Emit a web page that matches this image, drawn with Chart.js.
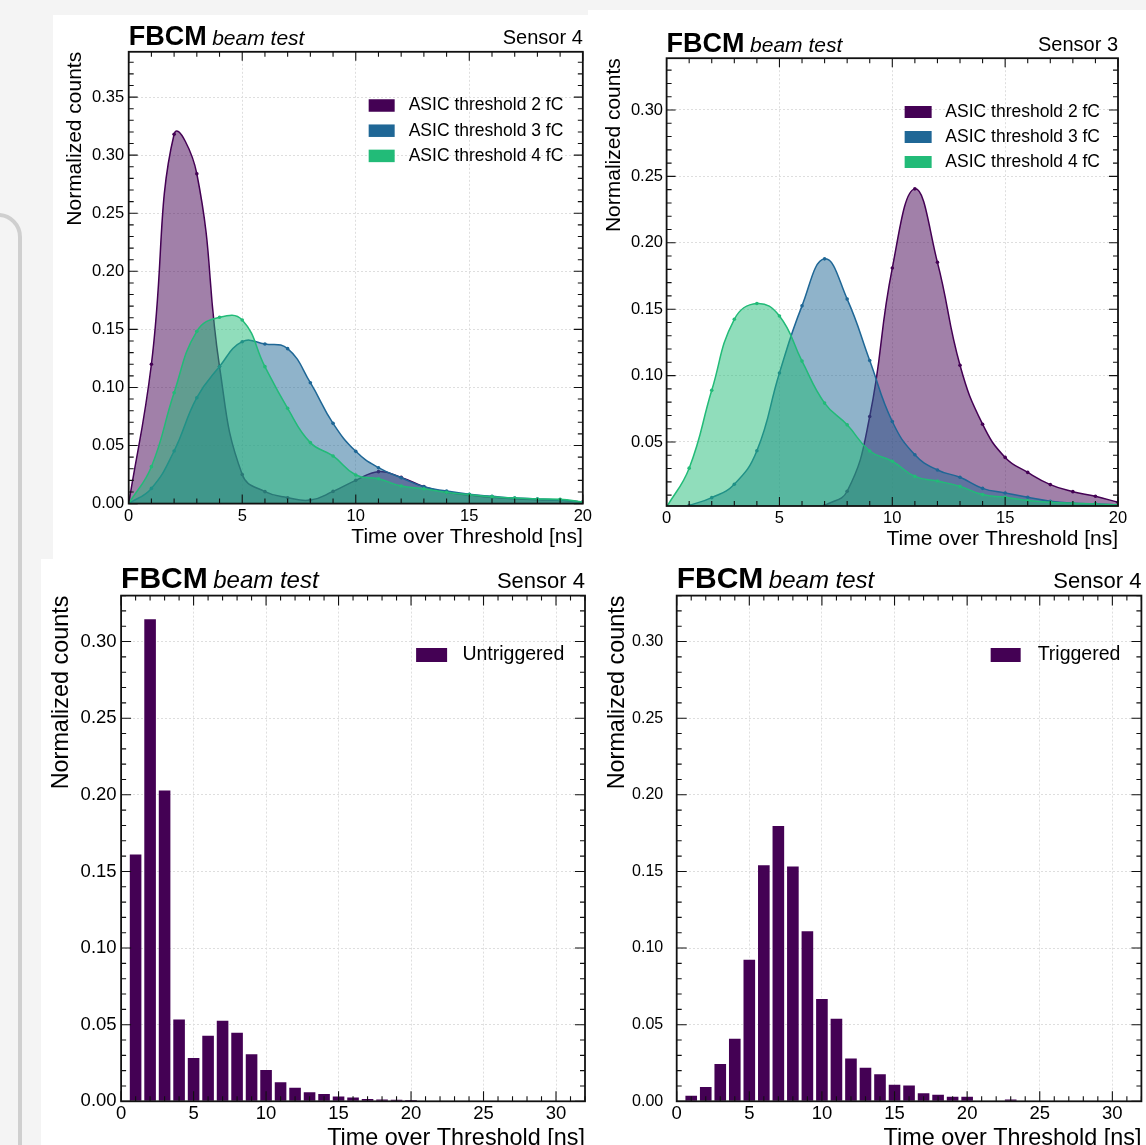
<!DOCTYPE html>
<html>
<head>
<meta charset="utf-8">
<script src="https://cdn.jsdelivr.net/npm/chart.js@4.4.0/dist/chart.umd.min.js"></script>
<style>
html,body{margin:0;padding:0;width:1146px;height:1145px;overflow:hidden;background:#f4f4f4;position:relative;}
.bg{position:absolute;background:#fff;}
.rr{position:absolute;left:-40px;top:213px;width:54px;height:1000px;border:4px solid #cfcfcf;border-radius:24px;}
canvas{position:absolute;}
</style>
</head>
<body>
<div class="rr"></div>
<div class="bg" style="left:53px;top:15px;width:537px;height:545px"></div>
<div class="bg" style="left:588px;top:10px;width:558px;height:550px"></div>
<div class="bg" style="left:41px;top:559px;width:1105px;height:586px"></div>
<canvas id="c1" width="555" height="557" style="left:40px;top:0px"></canvas>
<canvas id="c2" width="556" height="557" style="left:590px;top:0px"></canvas>
<canvas id="c3" width="590" height="600" style="left:0px;top:557px"></canvas>
<canvas id="c4" width="556" height="600" style="left:590px;top:557px"></canvas>
<script>
// ---------------- data ----------------
const TITLE_BOLD = 'FBCM';
const TITLE_ITALIC = 'beam test';
const X_TITLE = 'Time over Threshold [ns]';
const Y_TITLE = 'Normalized counts';
const LABELS_ASIC = ['ASIC threshold 2 fC', 'ASIC threshold 3 fC', 'ASIC threshold 4 fC'];

// Top-left: Sensor 4
const TL_X   = [0,1,2,3,4,5,6,7,8,9,10,11,12,13,14,15,16,17,18,19,20];
const TL_2FC = [0,0.120,0.318,0.284,0.118,0.025,0.0103,0.0051,0.0030,0.0105,0.020,0.0275,0.0226,0.0146,0.0097,0.0074,0.0054,0.0042,0.0034,0.0028,0.0014];
const TL_3FC = [0,0.0131,0.0453,0.0912,0.118,0.1394,0.1374,0.1334,0.1041,0.0691,0.0450,0.0309,0.0223,0.0145,0.0108,0.0080,0.0063,0.0048,0.0040,0.0030,0.0014];
const TL_4FC = [0,0.0318,0.0955,0.1483,0.1604,0.1581,0.1179,0.0820,0.0525,0.0410,0.0246,0.0214,0.0151,0.0128,0.0097,0.0077,0.0060,0.0048,0.0040,0.0037,0.0014];

// Top-right: Sensor 3
const TR_X   = [0,1,2,3,4,5,6,7,8,9,10,11,12,13,14,15,16,17,18,19,20];
const TR_2FC = [null,null,null,null,null,null,null,0.002,0.0129,0.0692,0.181,0.2406,0.1853,0.1078,0.0634,0.0384,0.0271,0.0179,0.0126,0.0091,0.0046];
const TR_3FC = [null,0.0023,0.0081,0.0182,0.0434,0.102,0.1525,0.1879,0.1576,0.1114,0.0654,0.0404,0.0289,0.0234,0.0151,0.0116,0.0084,0.0054,0.0039,0.0034,0.0026];
const TR_4FC = [0.001,0.0303,0.0889,0.1424,0.1543,0.1449,0.1109,0.0793,0.0629,0.0432,0.0355,0.0241,0.0206,0.0166,0.0104,0.0084,0.0059,0.0046,0.0039,0.0034,0.0026];

// Bottom: histograms, Sensor 4
const BINS   = [1,2,3,4,5,6,7,8,9,10,11,12,13,14,15,16,17,18,19,20,21,22,23];
const UNTRIG = [0.161,0.3145,0.2028,0.0533,0.0282,0.0427,0.0525,0.0447,0.0307,0.0204,0.0125,0.0088,0.0059,0.0047,0.0032,0.0025,0.0015,0.0012,0.0010,0.0008,0,0,0];
const TRIG   = [0.0037,0.0093,0.0243,0.0408,0.0923,0.154,0.1797,0.1532,0.111,0.0668,0.0538,0.028,0.0219,0.0177,0.0108,0.0103,0.0052,0.0042,0.0029,0.0029,0,0,0.0012];

// ---------------- style ----------------
const FONT = "'Liberation Sans', Arial, Helvetica, sans-serif";
const C_PURPLE = '#440154', C_BLUE = '#1f6796', C_GREEN = '#22bb78';
const FILL_ALPHA = 0.5;

function rgba(hex, a) {
  const n = parseInt(hex.slice(1), 16);
  return `rgba(${(n>>16)&255},${(n>>8)&255},${n&255},${a})`;
}
function pts(xs, ys) {
  return xs.map((x, i) => ({x: x, y: ys[i]})).filter(p => p.y !== null);
}

const hepPlugin = {
  id: 'hep',
  afterDraw(chart, _args, o) {
    const ctx = chart.ctx, a = chart.chartArea, xs = chart.scales.x, ys = chart.scales.y;
    ctx.save();
    ctx.strokeStyle = '#111';
    ctx.lineWidth = 1.1;
    ctx.beginPath();
    const mk = (scale, step, minor, fn) => {
      const n0 = Math.ceil(scale.min / minor - 1e-6), n1 = Math.floor(scale.max / minor + 1e-6);
      for (let k = n0; k <= n1; k++) {
        const v = k * minor;
        const r = v / step;
        const major = Math.abs(r - Math.round(r)) < 1e-6;
        fn(scale.getPixelForValue(v), major ? o.majorLen : o.minorLen);
      }
    };
    mk(xs, o.xStep, o.xMinor, (p, L) => {
      ctx.moveTo(p, a.bottom); ctx.lineTo(p, a.bottom - L);
      ctx.moveTo(p, a.top); ctx.lineTo(p, a.top + L);
    });
    mk(ys, o.yStep, o.yMinor, (p, L) => {
      ctx.moveTo(a.left, p); ctx.lineTo(a.left + L, p);
      ctx.moveTo(a.right, p); ctx.lineTo(a.right - L, p);
    });
    ctx.stroke();
    ctx.lineWidth = o.frameWidth;
    ctx.strokeRect(a.left, a.top, a.right - a.left, a.bottom - a.top);

    // header
    ctx.fillStyle = '#000';
    ctx.textBaseline = 'alphabetic';
    ctx.textAlign = 'left';
    ctx.font = `bold ${o.boldSize}px ${FONT}`;
    const by = a.top - o.titleGap;
    ctx.fillText(TITLE_BOLD, a.left, by);
    const w = ctx.measureText(TITLE_BOLD).width;
    ctx.font = `italic ${o.italicSize}px ${FONT}`;
    ctx.fillText(TITLE_ITALIC, a.left + w + o.titleSpace, by);
    ctx.font = `${o.sensorSize}px ${FONT}`;
    ctx.textAlign = 'right';
    ctx.fillText(o.sensor, a.right, a.top - o.sensorGap);

    // legend
    ctx.font = `${o.legendSize}px ${FONT}`;
    ctx.textAlign = 'left';
    ctx.textBaseline = 'middle';
    const ds = chart.data.datasets;
    const maxW = Math.max(...ds.map(d => ctx.measureText(d.label).width));
    const tx = a.right - o.legendRight - maxW;
    ds.forEach((d, i) => {
      const cy = a.top + o.legendTop + i * o.legendRow;
      ctx.fillStyle = d.legendColor;
      ctx.fillRect(tx - o.swatchGap, cy - o.swatchH / 2, o.swatchW, o.swatchH);
      ctx.fillStyle = '#000';
      ctx.fillText(d.label, tx, cy);
    });
    ctx.restore();
  }
};

function scalesCfg(p) {
  return {
    x: {
      type: 'linear', min: p.xMin, max: p.xMax, offset: false,
      grid: {color: '#dedede', lineWidth: 1, drawTicks: false, offset: false},
      border: {display: false, dash: [2, 2]},
      ticks: {stepSize: p.xStep, padding: p.xPad, maxRotation: 0, includeBounds: false, color: '#000',
              font: {family: FONT, size: p.tickSize}, callback: v => String(v)},
      title: {display: true, text: X_TITLE, align: 'end', color: '#000',
              font: {family: FONT, size: p.titleSize, lineHeight: 1.2}, padding: {top: 0, bottom: p.xTitlePad}},
      afterFit: s => { s.height = p.xAxisH; }
    },
    y: {
      type: 'linear', min: p.yMin, max: p.yMax,
      grid: {color: '#dedede', lineWidth: 1, drawTicks: false},
      border: {display: false, dash: [2, 2]},
      ticks: {stepSize: p.yStep, padding: p.yPad, includeBounds: false, color: '#000',
              font: {family: FONT, size: p.yTickSize || p.tickSize}, callback: v => Number(v).toFixed(2)},
      title: {display: true, text: Y_TITLE, align: 'end', color: '#000',
              font: {family: FONT, size: p.titleSize, lineHeight: 1.2}, padding: {top: p.yTitlePad, bottom: 0}},
      afterFit: s => { s.width = p.yAxisW; }
    }
  };
}

function lineDs(label, color, xs, ys, order) {
  return {
    type: 'line', label: label, legendColor: color, order: order,
    data: pts(xs, ys),
    borderColor: color, borderWidth: 1.5,
    backgroundColor: rgba(color, FILL_ALPHA),
    fill: 'start', tension: 0.45,
    pointRadius: 1.8, pointBorderWidth: 0, pointBackgroundColor: color
  };
}
function barDs(label, color, xs, ys) {
  return {
    type: 'bar', label: label, legendColor: color,
    data: pts(xs, ys),
    backgroundColor: color, borderWidth: 0,
    barPercentage: 0.8, categoryPercentage: 1.0, grouped: false
  };
}

function make(id, datasets, p) {
  new Chart(document.getElementById(id), {
    data: {datasets: datasets},
    options: {
      responsive: false, animation: false, devicePixelRatio: 1,
      layout: {padding: {left: 0, top: p.padTop, right: p.padRight, bottom: 0}},
      scales: scalesCfg(p),
      plugins: {
        legend: {display: false}, tooltip: {enabled: false},
        hep: {
          xStep: p.xStep, xMinor: 1, yStep: p.yStep, yMinor: 0.01,
          majorLen: p.majorLen, minorLen: p.minorLen, frameWidth: 1.8,
          boldSize: p.boldSize, italicSize: p.italicSize, titleSpace: 5.5, titleGap: p.titleGap,
          sensor: p.sensor, sensorSize: p.sensorSize, sensorGap: p.sensorGap,
          legendSize: p.legendSize, legendRight: p.legendRight, legendTop: p.legendTop, legendRow: p.legendRow,
          swatchW: p.swatchW, swatchH: p.swatchH, swatchGap: p.swatchGap
        }
      }
    },
    plugins: [hepPlugin]
  });
}

make('c1', [
  lineDs(LABELS_ASIC[0], C_PURPLE, TL_X, TL_2FC, 3),
  lineDs(LABELS_ASIC[1], C_BLUE,   TL_X, TL_3FC, 2),
  lineDs(LABELS_ASIC[2], C_GREEN,  TL_X, TL_4FC, 1)
], {
  xMin: 0, xMax: 20, xStep: 5, yMin: 0, yMax: 0.389, yStep: 0.05,
  padTop: 51.8, padRight: 10, yAxisW: 88.7, xAxisH: 53.4,
  tickSize: 16.5, titleSize: 21, xPad: 3, yPad: 4.5, xTitlePad: 7.4, yTitlePad: 22.7,
  majorLen: 9, minorLen: 5,
  boldSize: 27, italicSize: 21, titleGap: 7.2, sensor: 'Sensor 4', sensorSize: 20, sensorGap: 8.2,
  legendSize: 17.5, legendRight: 19.5, legendTop: 53.7, legendRow: 25.2, swatchW: 26, swatchH: 12.5, swatchGap: 40
});

make('c2', [
  lineDs(LABELS_ASIC[0], C_PURPLE, TR_X, TR_2FC, 3),
  lineDs(LABELS_ASIC[1], C_BLUE,   TR_X, TR_3FC, 2),
  lineDs(LABELS_ASIC[2], C_GREEN,  TR_X, TR_4FC, 1)
], {
  xMin: 0, xMax: 20, xStep: 5, yMin: 0.0018, yMax: 0.339, yStep: 0.05,
  padTop: 58.2, padRight: 28, yAxisW: 76.6, xAxisH: 51,
  tickSize: 16.5, titleSize: 21, xPad: 3, yPad: 3.6, xTitlePad: 5.4, yTitlePad: 11.4,
  majorLen: 9, minorLen: 5,
  boldSize: 27, italicSize: 21, titleGap: 6.4, sensor: 'Sensor 3', sensorSize: 20, sensorGap: 7.2,
  legendSize: 17.5, legendRight: 18, legendTop: 53.8, legendRow: 25, swatchW: 27, swatchH: 12, swatchGap: 40.7
});

make('c3', [
  barDs('Untriggered', C_PURPLE, BINS, UNTRIG)
], {
  xMin: 0, xMax: 32, xStep: 5, yMin: 0, yMax: 0.330, yStep: 0.05,
  padTop: 38.6, padRight: 5, yAxisW: 121.1, xAxisH: 55.7,
  tickSize: 18.5, titleSize: 23.4, xPad: 2, yPad: 4.5, xTitlePad: 4.6, yTitlePad: 47.7,
  majorLen: 10, minorLen: 5,
  boldSize: 30, italicSize: 24, titleGap: 7.9, sensor: 'Sensor 4', sensorSize: 22, sensorGap: 7.9,
  legendSize: 19.5, legendRight: 20.7, legendTop: 59.4, legendRow: 28, swatchW: 31, swatchH: 14, swatchGap: 46.3
});

make('c4', [
  barDs('Triggered', C_PURPLE, BINS, TRIG)
], {
  xMin: 0, xMax: 32, xStep: 5, yMin: 0, yMax: 0.330, yStep: 0.05,
  padTop: 38.6, padRight: 4.6, yAxisW: 86.7, xAxisH: 55.7,
  tickSize: 18.5, yTickSize: 16, titleSize: 23.4, xPad: 2, yPad: 13.5, xTitlePad: 4.6, yTitlePad: 14,
  majorLen: 10, minorLen: 5,
  boldSize: 30, italicSize: 24, titleGap: 7.9, sensor: 'Sensor 4', sensorSize: 22, sensorGap: 7.9,
  legendSize: 19.5, legendRight: 21, legendTop: 59.4, legendRow: 28, swatchW: 30, swatchH: 14, swatchGap: 47
});
</script>
</body>
</html>
